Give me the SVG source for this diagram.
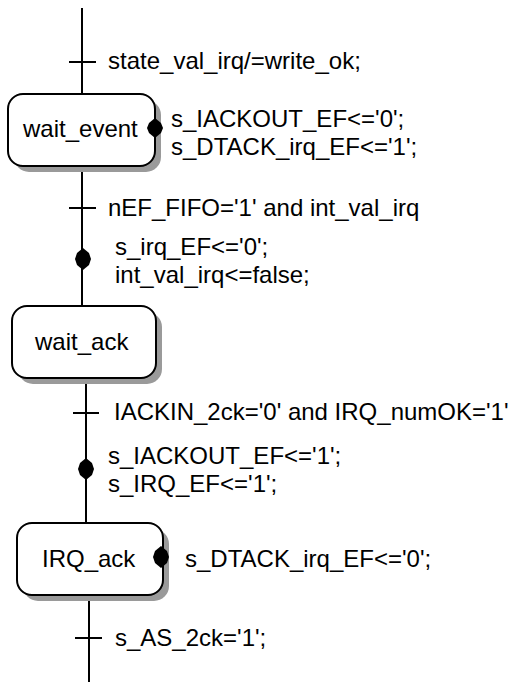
<svg xmlns="http://www.w3.org/2000/svg" width="515" height="682" viewBox="0 0 515 682">
<style>
text{font-family:"Liberation Sans",Arial,sans-serif;font-size:24px;fill:#000}
.box{fill:#fff;stroke:#000;stroke-width:2}
.shadow{fill:#9a9a9a}
.ln{stroke:#000;stroke-width:2;fill:none}
.dot{fill:#000}
</style>
<rect width="515" height="682" fill="#fff"/>
<g id="connectors">
  <line class="ln" x1="82" y1="8" x2="82" y2="94"/>
  <line class="ln" x1="69" y1="62" x2="96" y2="62"/>
  <text x="108" y="69">state_val_irq/=write_ok;</text>

  <line class="ln" x1="82" y1="166" x2="82" y2="306"/>
  <line class="ln" x1="69" y1="208" x2="96" y2="208"/>
  <text x="108" y="216">nEF_FIFO='1' and int_val_irq</text>
  <polygon class="dot" points="83,248 89,253 91,259 89,265 83,270 77,265 75,259 77,253"/>
  <text x="115" y="255">s_irq_EF&lt;='0';</text>
  <text x="115" y="283">int_val_irq&lt;=false;</text>

  <line class="ln" x1="86" y1="378" x2="86" y2="523"/>
  <line class="ln" x1="73" y1="413" x2="99" y2="413"/>
  <text x="114" y="420">IACKIN_2ck='0' and IRQ_numOK='1'</text>
  <polygon class="dot" points="86,458 92,463 94,469 92,475 86,480 80,475 78,469 80,463"/>
  <text x="108" y="464">s_IACKOUT_EF&lt;='1';</text>
  <text x="108" y="492">s_IRQ_EF&lt;='1';</text>

  <line class="ln" x1="89" y1="595" x2="89" y2="682"/>
  <line class="ln" x1="75" y1="638" x2="102" y2="638"/>
  <text x="115" y="646">s_AS_2ck='1';</text>
</g>
<g id="wait_event">
  <rect class="shadow" x="14" y="100" width="147" height="72" rx="15"/>
  <rect class="box" x="8" y="94" width="147" height="72" rx="15"/>
  <text x="23" y="137">wait_event</text>
  <polygon class="dot" points="155,118 161,123 163,128 161,133 155,138 149,133 147,128 149,123"/>
  <text x="171" y="127">s_IACKOUT_EF&lt;='0';</text>
  <text x="171" y="155">s_DTACK_irq_EF&lt;='1';</text>
</g>
<g id="wait_ack">
  <rect class="shadow" x="18" y="312" width="144" height="72" rx="15"/>
  <rect class="box" x="12" y="306" width="144" height="72" rx="15"/>
  <text x="35" y="350">wait_ack</text>
</g>
<g id="IRQ_ack">
  <rect class="shadow" x="23" y="529" width="146" height="72" rx="15"/>
  <rect class="box" x="17" y="523" width="146" height="72" rx="15"/>
  <text x="42" y="567">IRQ_ack</text>
  <polygon class="dot" points="161,546 167,551 169,557 167,563 161,568 155,563 153,557 155,551"/>
  <text x="185" y="567">s_DTACK_irq_EF&lt;='0';</text>
</g>
</svg>
